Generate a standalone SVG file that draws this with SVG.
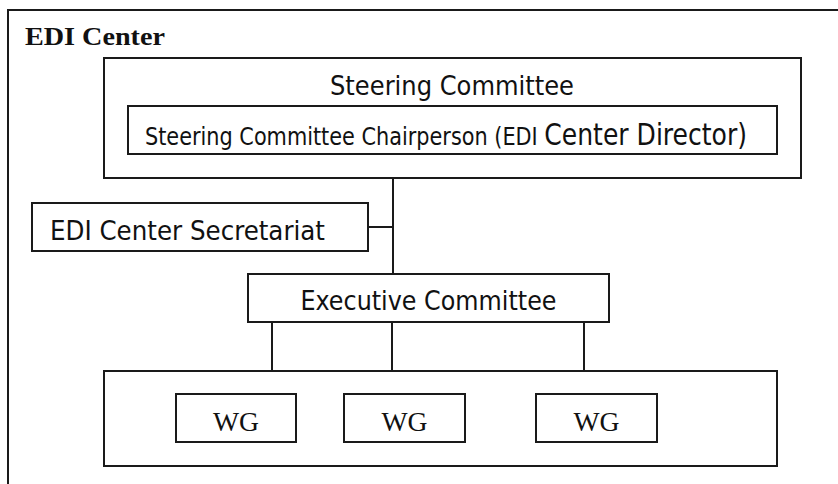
<svg xmlns="http://www.w3.org/2000/svg" width="838" height="484" viewBox="0 0 838 484">
<style>
.box{fill:#fff;stroke:#1a1a1a;stroke-width:2}
.ln{fill:none;stroke:#1a1a1a;stroke-width:2}
.sans{font-family:"DejaVu Sans Condensed","DejaVu Sans",sans-serif;font-stretch:condensed;fill:#111}
.serif{font-family:"Liberation Serif","Times New Roman",serif;fill:#111}
</style>
<rect width="838" height="484" fill="#fff"/>
<g id="edi-center">
<path class="ln" d="M838,10 H8 V484"/>
<text class="serif" x="25" y="45" font-size="26" font-weight="bold" textLength="140" lengthAdjust="spacingAndGlyphs">EDI Center</text>
</g>
<g id="connectors">
<line class="ln" x1="393" y1="178" x2="393" y2="274"/>
<line class="ln" x1="368" y1="227" x2="393" y2="227"/>
<line class="ln" x1="272" y1="322" x2="272" y2="394"/>
<line class="ln" x1="392" y1="322" x2="392" y2="394"/>
<line class="ln" x1="584" y1="322" x2="584" y2="394"/>
</g>
<g id="steering-committee">
<rect class="box" x="104" y="58" width="697" height="120"/>
<text class="sans" x="330" y="95" font-size="27" textLength="244" lengthAdjust="spacingAndGlyphs">Steering Committee</text>
</g>
<g id="chairperson">
<rect class="box" x="128" y="106" width="649" height="48"/>
<text class="sans" x="145" y="144.5" font-size="24.5" textLength="602" lengthAdjust="spacingAndGlyphs">Steering Committee Chairperson (EDI <tspan font-size="29.5">Center Director)</tspan></text>
</g>
<g id="secretariat">
<rect class="box" x="32" y="203" width="336" height="48"/>
<text class="sans" x="50" y="240" font-size="26.5" textLength="275" lengthAdjust="spacingAndGlyphs">EDI Center Secretariat</text>
</g>
<g id="executive-committee">
<rect class="box" x="248" y="274" width="361" height="48"/>
<text class="sans" x="300.5" y="309.5" font-size="26.5" textLength="256" lengthAdjust="spacingAndGlyphs">Executive Committee</text>
</g>
<g id="wg-group">
<rect class="box" x="104" y="371" width="673" height="95"/>
</g>
<g id="wg1">
<rect class="box" x="176" y="394" width="120" height="48"/>
<text class="serif" x="236" y="431" font-size="28" text-anchor="middle" textLength="46" lengthAdjust="spacingAndGlyphs">WG</text>
</g>
<g id="wg2">
<rect class="box" x="344" y="394" width="121" height="48"/>
<text class="serif" x="404.5" y="431" font-size="28" text-anchor="middle" textLength="46" lengthAdjust="spacingAndGlyphs">WG</text>
</g>
<g id="wg3">
<rect class="box" x="536" y="394" width="121" height="48"/>
<text class="serif" x="596.5" y="431" font-size="28" text-anchor="middle" textLength="46" lengthAdjust="spacingAndGlyphs">WG</text>
</g>
</svg>
